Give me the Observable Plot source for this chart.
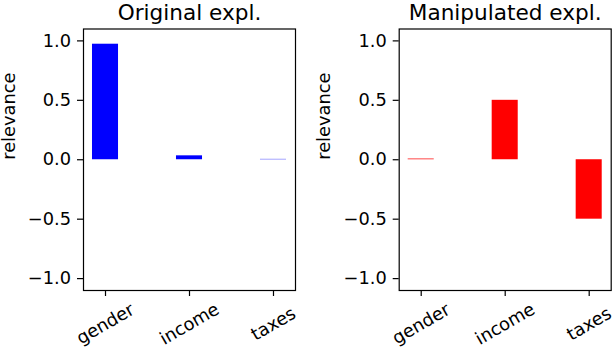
<!DOCTYPE html>
<html><head><meta charset="utf-8">
<script src="https://cdn.jsdelivr.net/npm/d3@7"></script>
<script src="https://cdn.jsdelivr.net/npm/@observablehq/plot@0.6"></script>
<style>
body{margin:0;background:#fff;}
#wrap{display:flex;width:612px;height:348px;}
#wrap svg{overflow:visible;flex:none;}
</style></head><body><div id="wrap"></div>
<script>
const features = ["gender", "income", "taxes"];
const originalRelevance = [0.972, 0.033, 0.003];
const manipulatedRelevance = [0.006, 0.5, -0.5];
const yTicks = [-1.0, -0.5, 0.0, 0.5, 1.0];
const panelTitles = ["Original expl.", "Manipulated expl."];
const barColors = ["#0000ff", "#ff0000"];
const yLabel = "relevance";

function panel(title, values, color, marginLeft, marginRight) {
  const data = features.map((f, i) => ({feature: f, value: values[i]}));
  return Plot.plot({
    width: 306, height: 348,
    marginLeft, marginRight, marginTop: 28.5, marginBottom: 58,
    style: {fontFamily: "DejaVu Sans", fontSize: "17.8px", color: "black", background: "white"},
    x: {type: "band", domain: features, paddingInner: 0.69, paddingOuter: 0.107, round: false},
    y: {domain: [-1.1, 1.1]},
    marks: [
      Plot.barY(data, {x: "feature", y: "value", fill: color}),
      Plot.axisY(yTicks, {tickSize: 6, tickPadding: 6.5, tickFormat: d3.format(".1f"), strokeWidth: 1.2, label: null}),
      Plot.axisX(features, {tickSize: 6, tickFormat: () => "", label: null, strokeWidth: 1.2}),
      Plot.text(features, {x: d => d, frameAnchor: "bottom", dy: 33.5, rotate: -30, textAnchor: "middle", lineAnchor: "middle"}),
      Plot.frame({stroke: "black", strokeWidth: 1.2}),
      Plot.text([title], {frameAnchor: "top", dy: -9.5, lineAnchor: "bottom", fontSize: 21.6}),
      Plot.text([yLabel], {frameAnchor: "left", dx: -74.5, rotate: -90, lineAnchor: "middle"})
    ]
  });
}
const wrap = document.getElementById("wrap");
wrap.appendChild(panel(panelTitles[0], originalRelevance, barColors[0], 83, 11));
wrap.appendChild(panel(panelTitles[1], manipulatedRelevance, barColors[1], 92.7, 1.3));
</script></body></html>
